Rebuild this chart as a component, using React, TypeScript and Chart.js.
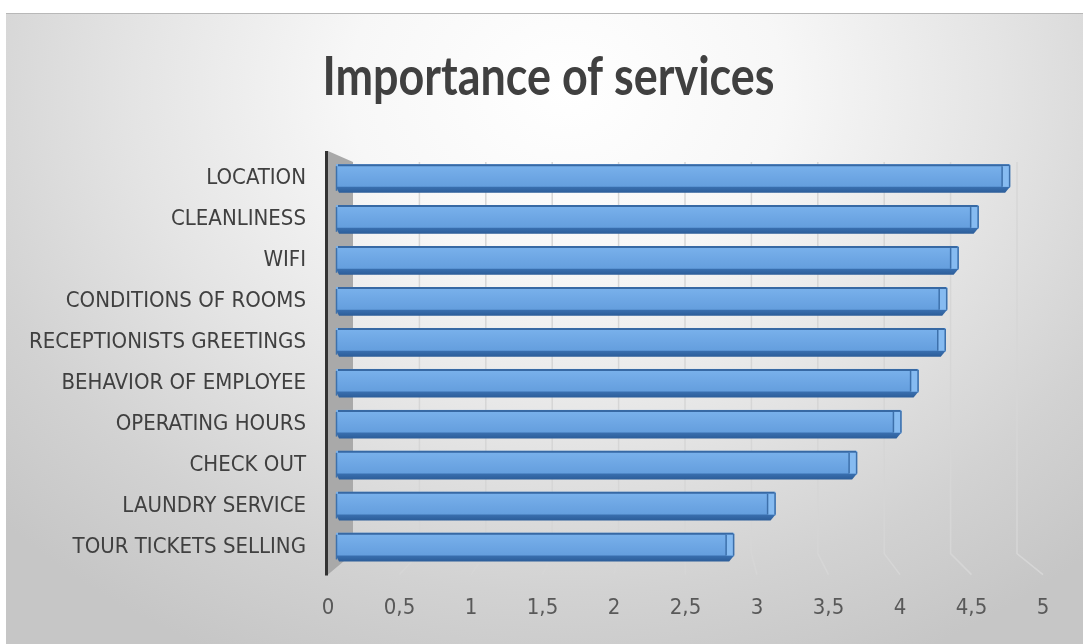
import React, { useEffect, useRef } from "react";
import { Chart, registerables } from "chart.js";

Chart.register(...registerables);

const titleText = "Importance of services";
const categories = [
  "LOCATION",
  "CLEANLINESS",
  "WIFI",
  "CONDITIONS OF ROOMS",
  "RECEPTIONISTS GREETINGS",
  "BEHAVIOR OF EMPLOYEE",
  "OPERATING HOURS",
  "CHECK OUT",
  "LAUNDRY SERVICE",
  "TOUR TICKETS SELLING",
];
const importance = [4.77, 4.55, 4.41, 4.33, 4.32, 4.13, 4.01, 3.7, 3.13, 2.84];
const xTickValues = [0, 0.5, 1, 1.5, 2, 2.5, 3, 3.5, 4, 4.5, 5];
const xTickLabels = ["0", "0,5", "1", "1,5", "2", "2,5", "3", "3,5", "4", "4,5", "5"];

const FONT = "'DejaVu Sans Condensed', 'DejaVu Sans', sans-serif";
const TITLE_FONT = "Lato, 'DejaVu Sans Condensed', sans-serif";

const titlePlugin = {
  id: "narrowTitle",
  afterDraw(chart: any) {
    const { ctx, width } = chart;
    ctx.save();
    ctx.font = `bold 53px ${TITLE_FONT}`;
    ctx.fillStyle = "#404040";
    ctx.textAlign = "center";
    ctx.textBaseline = "alphabetic";
    const natural = ctx.measureText(titleText).width;
    const sx = Math.min(1, 452 / natural);
    const cx = (width + 14) / 2;
    ctx.translate(cx, 95);
    ctx.scale(sx, 1);
    ctx.fillText(titleText, 0, 0);
    ctx.restore();
  },
};

const depthPlugin = {
  id: "depth3d",
  beforeDatasetsDraw(chart: any) {
    const { ctx, chartArea: ca, scales } = chart;
    const xs = scales.x;
    const backLeft = ca.left + 25;
    const backRight = ca.right - 26;
    const backTop = ca.top + 4;
    const backBottom = ca.bottom - 14;
    const frontBottom = ca.bottom + 7;
    const w = ca.right - ca.left;
    ctx.save();
    ctx.strokeStyle = "#d6d6d6";
    ctx.lineWidth = 1.5;
    xTickValues.forEach((v) => {
      if (v === 0) return;
      const fx = xs.getPixelForValue(v);
      const bx = backLeft + ((fx - ca.left) * (backRight - backLeft)) / w;
      ctx.beginPath();
      ctx.moveTo(bx, backTop);
      ctx.lineTo(bx, backBottom);
      ctx.lineTo(fx, frontBottom);
      ctx.stroke();
    });
    // left side wall
    ctx.fillStyle = "#a9a9a9";
    ctx.beginPath();
    ctx.moveTo(ca.left, ca.top - 7);
    ctx.lineTo(backLeft, backTop);
    ctx.lineTo(backLeft, backBottom);
    ctx.lineTo(ca.left, frontBottom);
    ctx.closePath();
    ctx.fill();
    ctx.restore();
  },
  afterDatasetsDraw(chart: any) {
    const { ctx, chartArea: ca } = chart;
    const meta = chart.getDatasetMeta(0);
    ctx.save();
    meta.data.forEach((el: any) => {
      const { x, y, base, height } = el.getProps(["x", "y", "base", "height"], true);
      const top = y - height / 2;
      const bot = y + height / 2;
      const left = base + 8;
      const len = x - left;
      // face
      const g = ctx.createLinearGradient(0, top, 0, bot);
      g.addColorStop(0, "#7ab2ec");
      g.addColorStop(0.5, "#6ca5e3");
      g.addColorStop(1, "#5f9ada");
      ctx.fillStyle = g;
      ctx.fillRect(left, top, len, height - 5);
      // underside band
      const g2 = ctx.createLinearGradient(0, bot - 6, 0, bot);
      g2.addColorStop(0, "#3a70b0");
      g2.addColorStop(1, "#2c5d99");
      ctx.fillStyle = g2;
      ctx.beginPath();
      ctx.moveTo(left, bot - 6);
      ctx.lineTo(x, bot - 6);
      ctx.lineTo(x - 5, bot);
      ctx.lineTo(left + 3, bot);
      ctx.closePath();
      ctx.fill();
      // top edge
      ctx.strokeStyle = "#3769a4";
      ctx.lineWidth = 2;
      ctx.beginPath();
      ctx.moveTo(left + 2, top + 1);
      ctx.lineTo(x - 1, top + 1);
      ctx.stroke();
      // right cap
      ctx.fillStyle = "#86bbf1";
      ctx.fillRect(x - 8, top + 2, 7, height - 8);
      ctx.strokeStyle = "#3d70ab";
      ctx.lineWidth = 1.5;
      ctx.beginPath();
      ctx.moveTo(x - 8, top + 2);
      ctx.lineTo(x - 8, bot - 6);
      ctx.stroke();
      ctx.beginPath();
      ctx.moveTo(x - 0.5, top + 1);
      ctx.lineTo(x - 0.5, bot - 6);
      ctx.stroke();
      // left end
      ctx.beginPath();
      ctx.moveTo(left + 0.5, top + 2);
      ctx.lineTo(left + 0.5, bot - 2);
      ctx.stroke();
    });
    // dark vertical axis line
    ctx.strokeStyle = "#333333";
    ctx.lineWidth = 3;
    ctx.beginPath();
    ctx.moveTo(ca.left - 1.5, ca.top - 7);
    ctx.lineTo(ca.left - 1.5, ca.bottom + 8);
    ctx.stroke();
    ctx.restore();
  },
};

export default function App() {
  const canvasRef = useRef<HTMLCanvasElement | null>(null);

  useEffect(() => {
    if (!canvasRef.current) return;
    const chart = new Chart(canvasRef.current, {
      type: "bar",
      data: {
        labels: categories,
        datasets: [
          {
            label: "Importance",
            data: importance,
            backgroundColor: "rgba(0,0,0,0)",
            borderWidth: 0,
            barPercentage: 0.7,
            categoryPercentage: 1,
          },
        ],
      },
      options: {
        indexAxis: "y",
        responsive: false,
        animation: false,
        devicePixelRatio: 1,
        layout: { padding: { left: 14, right: 40, top: 158, bottom: 0 } },
        plugins: {
          legend: { display: false },
          tooltip: { enabled: false },
          title: { display: false },
        },
        scales: {
          x: {
            min: 0,
            max: 5,
            afterBuildTicks: (scale: any) => {
              scale.ticks = xTickValues.map((v) => ({ value: v }));
            },
            ticks: {
              callback: (_v: any, i: number) => xTickLabels[i],
              color: "#595959",
              font: { family: FONT, size: 22 },
              padding: 27,
              maxRotation: 0,
              autoSkip: false,
            },
            grid: { display: false, drawTicks: false },
            border: { display: false },
          },
          y: {
            afterFit: (scale: any) => {
              scale.width = 314;
            },
            ticks: {
              color: "#404040",
              font: { family: FONT, size: 22 },
              padding: 22,
              autoSkip: false,
            },
            grid: { display: false, drawTicks: false },
            border: { display: false },
          },
        },
      },
      plugins: [depthPlugin, titlePlugin],
    });
    return () => chart.destroy();
  }, []);

  return (
    <div style={{ position: "absolute", left: 0, top: 0, width: 1083, height: 644, background: "#ffffff", overflow: "hidden" }}>
      <div
        style={{
          position: "absolute",
          left: 6,
          top: 13,
          right: 0,
          bottom: 0,
          borderTop: "1px solid #b8b8b8",
          background:
            "radial-gradient(ellipse 72% 100% at 52% 12%, #ffffff 0%, #f7f7f7 28%, #e4e4e4 56%, #d2d2d2 80%, #c6c6c6 100%)",
        }}
      />
      <canvas ref={canvasRef} width={1083} height={648} style={{ position: "absolute", left: 0, top: 0 }} />
    </div>
  );
}
